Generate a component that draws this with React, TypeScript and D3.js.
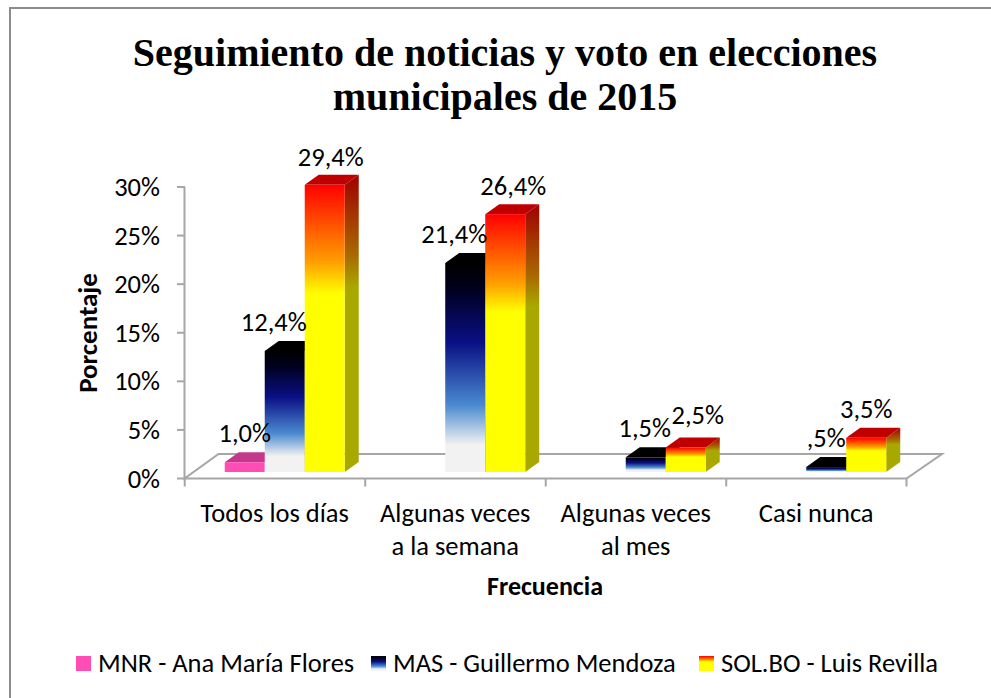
import React from "react";
import * as d3 from "d3";

const categories = ["Todos los días", "Algunas veces a la semana", "Algunas veces al mes", "Casi nunca"];
const categoryLines = [["Todos los días"], ["Algunas veces", "a la semana"], ["Algunas veces", "al mes"], ["Casi nunca"]];
const seriesNames = ["MNR - Ana María Flores", "MAS - Guillermo Mendoza", "SOL.BO - Luis Revilla"];
const mnr = [1.0, null, null, null];
const mas = [12.4, 21.4, 1.5, 0.5];
const sol = [29.4, 26.4, 2.5, 3.5];
const valueLabels = [
  ["1,0%", null, null, null],
  ["12,4%", "21,4%", "1,5%", ",5%"],
  ["29,4%", "26,4%", "2,5%", "3,5%"],
];
const ticks = [0, 5, 10, 15, 20, 25, 30];
const titleLines = ["Seguimiento de noticias y voto en elecciones", "municipales de 2015"];

const W = 991, H = 698;
const DX = 14, DY = 10; // 3D depth
const axisGray = "#a6a6a6";
const sans = "Carlito, 'Open Sans', 'Noto Sans', sans-serif";

const y0Front = 478.5;
const y = d3.scaleLinear().domain([0, 30]).range([y0Front, 187]);
const barY = d3.scaleLinear().domain([0, 30]).range([472, 179]);
const x = d3.scaleBand().domain(categories).range([184.5, 906.5]).paddingInner(0.335).paddingOuter(0.1675);
const series = d3.scaleBand().domain(["0", "1", "2"]).range([0, 120]);

const face = ["url(#gPink)", "url(#gBlue)", "url(#gSol)"];
const side = ["#c4388c", "url(#gBlueSide)", "url(#gSolSide)"];
const top = ["#c4388c", "#000000", "#c00000"];
// per-label placement nudges (dx, dy from bar top centre)
const labelNudge = [
  [[0, -20], null, null, null],
  [[-11, -20], [-11, -20], [-1, -20], [0, -20]],
  [[6, -19], [8, -19], [12, -24], [0, -20]],
];

function Bar({ xp, v, s }: { xp: number; v: number; s: number }) {
  const w = series.bandwidth();
  const yb = barY(0), yt = barY(v);
  const prism = (pts: number[][]) => pts.map((p) => p.join(",")).join(" ");
  return (
    <g>
      <polygon points={prism([[xp + w, yb], [xp + w + DX, yb - DY], [xp + w + DX, yt - DY], [xp + w, yt]])} fill={side[s]} />
      <polygon points={prism([[xp, yt], [xp + DX, yt - DY], [xp + w + DX, yt - DY], [xp + w, yt]])} fill={top[s]} />
      <rect x={xp} y={yt} width={w} height={yb - yt} fill={face[s]} />
    </g>
  );
}

export default function App() {
  const allSeries = [mnr, mas, sol];
  const stops = (id: string, list: [number, string][]) => (
    <linearGradient id={id} x1="0" y1="0" x2="0" y2="1">
      {list.map(([o, c]) => <stop key={o} offset={o} stopColor={c} />)}
    </linearGradient>
  );
  const shift = 10;
  const tickXs = [...categories.map((c) => (x(c) as number) - 30), 906.5];
  return (
    <svg width={W} height={H} viewBox={`0 0 ${W} ${H}`} style={{ position: "absolute", left: 0, top: 0, background: "#fff" }}>
      <defs>
        {stops("gPink", [[0, "#ff4db5"], [1, "#ff4db5"]])}
        {stops("gBlue", [[0, "#000000"], [0.12, "#00001c"], [0.38, "#0a0f85"], [0.68, "#4a8ad0"], [0.87, "#f2f2f2"], [1, "#f2f2f2"]])}
        {stops("gBlueSide", [[0, "#000000"], [1, "#000000"]])}
        {stops("gSol", [[0, "#ff0000"], [0.27, "#ffa000"], [0.38, "#ffff00"], [1, "#ffff00"]])}
        {stops("gSolSide", [[0, "#a00000"], [0.27, "#a86a00"], [0.38, "#a8a800"], [1, "#a8a800"]])}
      </defs>

      <path d={`M10,${H}V8H${W}`} fill="none" stroke="#8c8c8c" strokeWidth={2} />

      <g textAnchor="middle" fontFamily="'Liberation Serif', serif" fontWeight="bold" fontSize={40} fill="#000">
        {titleLines.map((t, i) => <text key={t} x={505} y={66 + i * 44}>{t}</text>)}
      </g>

      <g fill="none" stroke={axisGray} strokeWidth={2}>
        <path d={`M184.5,187V${y0Front}L${184.5 + 34},454H942L906.5,${y0Front}H184.5`} />
        {ticks.map((t) => <line key={t} x1={177} x2={185} y1={y(t)} y2={y(t)} />)}
        {tickXs.map((tx) => <line key={tx} x1={tx} x2={tx} y1={y0Front} y2={y0Front + 8} />)}
      </g>

      <g fontFamily={sans} fontSize={26.5} fill="#000">
        {ticks.map((t) => (
          <text key={t} x={160} y={y(t) + 9} textAnchor="end">{`${t}%`}</text>
        ))}
      </g>

      {allSeries.map((vals, s) => (
        <g key={s}>
          {vals.map((v, i) =>
            v == null ? null : (
              <Bar key={i} v={v} s={s} xp={(x(categories[i]) as number) + shift + (series(String(s)) as number)} />
            )
          )}
        </g>
      ))}

      <g fontFamily={sans} fontSize={26.5} fill="#000" textAnchor="middle">
        {valueLabels.map((labels, s) =>
          labels.map((lab, i) => {
            const v = allSeries[s][i];
            const n = labelNudge[s][i];
            if (lab == null || v == null || n == null) return null;
            const cx = (x(categories[i]) as number) + shift + (series(String(s)) as number) + series.bandwidth() / 2;
            return <text key={`${s}-${i}`} x={cx + n[0]} y={barY(v) + n[1]}>{lab}</text>;
          })
        )}
      </g>

      <g fontFamily={sans} fontSize={26.5} fill="#000" textAnchor="middle">
        {categoryLines.map((lines, i) =>
          lines.map((l, j) => (
            <text key={l + i} x={(x(categories[i]) as number) + 60} y={522 + j * 33}>{l}</text>
          ))
        )}
      </g>

      <text x={545} y={595} textAnchor="middle" fontFamily={sans} fontWeight="bold" fontSize={26}>Frecuencia</text>
      <text transform="translate(97,333) rotate(-90)" textAnchor="middle" fontFamily={sans} fontWeight="bold" fontSize={27}>Porcentaje</text>

      <g fontFamily={sans} fontSize={26.5} fill="#000">
        {seriesNames.map((n, i) => {
          const sx = [76, 371, 699][i];
          const fills = ["url(#gPink)", "url(#gBlue)", "url(#gSol)"];
          return (
            <g key={n}>
              <rect x={sx} y={656} width={15} height={15} fill={fills[i]} />
              <text x={sx + 22} y={672}>{n}</text>
            </g>
          );
        })}
      </g>
    </svg>
  );
}
